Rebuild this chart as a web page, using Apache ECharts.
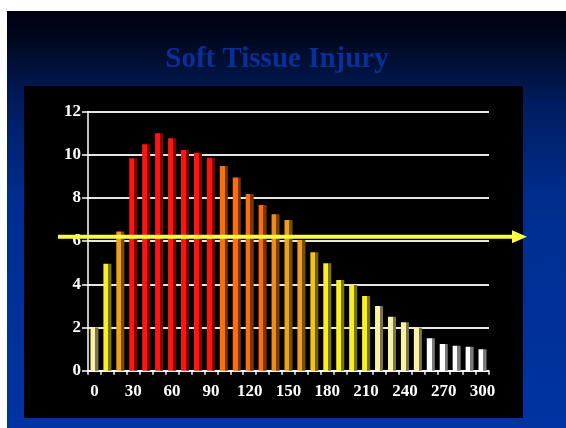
<!DOCTYPE html>
<html>
<head>
<meta charset="utf-8">
<script src="https://cdn.jsdelivr.net/npm/echarts@6/dist/echarts.min.js"></script>
<style>
html,body{margin:0;padding:0;background:#fff;}
#c{width:566px;height:428px;}
</style>
</head>
<body>
<div id="c"></div>
<script>
// ---- data ----
var titleText = 'Soft Tissue Injury';
var categories = ['0','10','20','30','40','50','60','70','80','90','100','110','120','130','140','150','160','170','180','190','200','210','220','230','240','250','260','270','280','290','300'];
var values = [2.0,4.95,6.45,9.83,10.48,10.99,10.76,10.22,10.09,9.86,9.48,8.95,8.18,7.67,7.24,6.98,6.05,5.48,4.97,4.2,3.97,3.46,3.0,2.5,2.24,1.99,1.5,1.24,1.16,1.11,0.99];
var thresholdValue = 6.2;
var yTicks = {min: 0, max: 12, interval: 2};

// ---- styles ----
var palette = {
  pale:   ['#faf2a4', '#7a744a'],
  yellow: ['#f8f020', '#7a7410'],
  gold:   ['#f2c21e', '#76600c'],
  amber:  ['#f0a020', '#74500c'],
  orange2:['#f08a18', '#74420a'],
  orange: ['#fb6e10', '#7a3406'],
  red:    ['#ff1414', '#7c0606'],
  white:  ['#ffffff', '#7a7a7a']
};
var barColorKeys = ['pale','yellow','amber','red','red','red','red','red','red','red','orange','orange','orange','orange','orange2','amber','amber','gold','yellow','yellow','yellow','yellow','pale','pale','pale','pale','white','white','white','white','white'];

function barFill(key){
  var c = palette[key];
  return new echarts.graphic.LinearGradient(0,0,1,0,[
    {offset:0, color:c[0]},
    {offset:0.6, color:c[0]},
    {offset:0.6, color:c[1]},
    {offset:1, color:c[1]}
  ]);
}

var chart = echarts.init(document.getElementById('c'), null, {renderer:'canvas'});
var serif = '"Liberation Serif","Times New Roman",serif';

var seriesData = values.map(function(v,i){
  return {value:v, itemStyle:{color:barFill(barColorKeys[i])}};
});

var bgGraphics = [
  {type:'rect', z:-10, shape:{x:7,y:11,width:559,height:417},
   style:{fill:new echarts.graphic.LinearGradient(0,0,0,1,[
     {offset:0,color:'#00000c'},
     {offset:0.08,color:'#000a24'},
     {offset:0.22,color:'#001c5e'},
     {offset:0.45,color:'#002d8e'},
     {offset:1,color:'#0034a2'}])}},
  {type:'rect', z:-9, shape:{x:24,y:86,width:499,height:332}, style:{fill:'#000000'}},
  {type:'text', z:5, x:277, y:45, style:{text:titleText, fill:'#0b2f98', font:'bold 29px '+serif, textAlign:'center'}}
];

chart.setOption({
  animation:false,
  backgroundColor:'#ffffff',
  grid:{left:88, right:77, top:111.5, bottom:57.3},
  xAxis:{
    type:'category', data:categories, boundaryGap:true,
    axisLine:{lineStyle:{color:'#ffffff', width:1.5}},
    axisTick:{show:true, interval:0, length:4, lineStyle:{color:'#ffffff', width:1.5}},
    axisLabel:{interval:2, color:'#ffffff', fontFamily:serif, fontWeight:'bold', fontSize:17, margin:12}
  },
  yAxis:{
    type:'value', min:yTicks.min, max:yTicks.max, interval:yTicks.interval,
    axisLine:{show:true, lineStyle:{color:'#ffffff', width:1.5}},
    axisTick:{show:true, length:6, lineStyle:{color:'#ffffff', width:1.5}},
    axisLabel:{color:'#ffffff', fontFamily:serif, fontWeight:'bold', fontSize:17, margin:7},
    splitLine:{show:true, lineStyle:{color:'#e6e6e6', width:2}}
  },
  series:[{
    type:'bar', data:seriesData, barWidth:8, z:3
  }],
  graphic: bgGraphics
});

var yPix = chart.convertToPixel({yAxisIndex:0}, thresholdValue);
chart.setOption({
  graphic: bgGraphics.concat([
    {type:'line', z:50, shape:{x1:58, y1:yPix, x2:514, y2:yPix}, style:{stroke:'#fafa46', lineWidth:4}},
    {type:'polygon', z:50, shape:{points:[[512,yPix-6.5],[527,yPix],[512,yPix+6.5]]}, style:{fill:'#fafa46'}}
  ])
});
</script>
</body>
</html>
